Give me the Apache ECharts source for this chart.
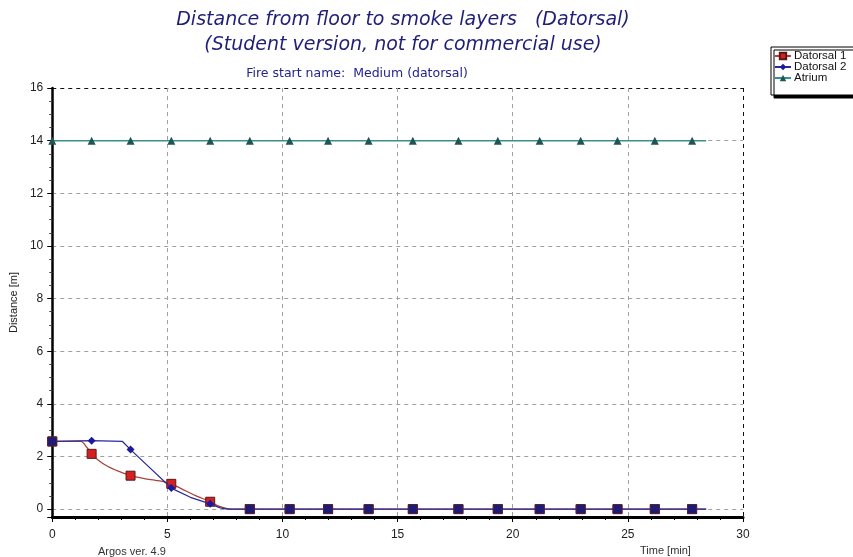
<!DOCTYPE html>
<html>
<head>
<meta charset="utf-8">
<script src="https://cdn.jsdelivr.net/npm/echarts@6/dist/echarts.min.js"></script>
<style>html,body{margin:0;padding:0;background:#fff}#c{width:853px;height:557px}</style>
</head>
<body>
<div id="c"></div>
<script>
// ---- data ----
const seriesNames = ['Datorsal 1', 'Datorsal 2', 'Atrium'];
const markerTimes = [0, 1.71, 3.40, 5.17, 6.86, 8.58, 10.31, 11.98, 13.74, 15.66, 17.64, 19.35, 21.17, 22.95, 24.55, 26.17, 27.79];

const d1Times  = [0, 1.25, 1.5, 1.71, 2.0, 2.4, 2.9, 3.40, 4.0, 4.6, 5.17, 5.6, 6.2, 6.86, 7.2, 7.6, 8.0, 8.58, 10.31, 11.98, 13.74, 15.66, 17.64, 19.35, 21.17, 22.95, 24.55, 26.17, 27.79, 28.4];
const d1Values = [2.57, 2.57, 2.35, 2.10, 1.86, 1.63, 1.43, 1.27, 1.16, 1.08, 0.96, 0.78, 0.52, 0.28, 0.12, 0.02, 0, 0, 0, 0, 0, 0, 0, 0, 0, 0, 0, 0, 0, 0];

const d2Times  = [0, 1.71, 3.05, 3.40, 4.3, 5.17, 6.0, 6.86, 7.3, 7.6, 8.58, 10.31, 11.98, 13.74, 15.66, 17.64, 19.35, 21.17, 22.95, 24.55, 26.17, 27.79, 28.4];
const d2Values = [2.57, 2.60, 2.57, 2.26, 1.52, 0.80, 0.45, 0.20, 0.05, 0, 0, 0, 0, 0, 0, 0, 0, 0, 0, 0, 0, 0, 0];

const atTimes  = [0, 1.71, 3.40, 5.17, 6.86, 8.58, 10.31, 11.98, 13.74, 15.66, 17.64, 19.35, 21.17, 22.95, 24.55, 26.17, 27.79, 28.4];
const atValues = [14, 14, 14, 14, 14, 14, 14, 14, 14, 14, 14, 14, 14, 14, 14, 14, 14, 14];

const xTicks = [0, 5, 10, 15, 20, 25, 30];
const yTicks = [0, 2, 4, 6, 8, 10, 12, 14, 16];

// ---- build ----
function isMarker(t) { return markerTimes.some(m => Math.abs(m - t) < 1e-6); }
function d1At(t) { const i = d1Times.findIndex(v => Math.abs(v - t) < 1e-6); return i < 0 ? null : d1Values[i]; }

const d1Data = d1Times.map((t, i) => ({ value: [t, d1Values[i]], symbol: isMarker(t) ? 'rect' : 'none' }));
const d2Data = d2Times.map((t, i) => {
  if (!isMarker(t)) return { value: [t, d2Values[i]], symbol: 'none' };
  const overlap = d1At(t) !== null && Math.abs(d1At(t) - d2Values[i]) < 1e-6;
  return overlap
    ? { value: [t, d2Values[i]], symbol: 'rect', symbolSize: 9, itemStyle: { color: '#1c1c78', borderColor: '#5a2030', borderWidth: 1 } }
    : { value: [t, d2Values[i]], symbol: 'diamond' };
});
const atData = atTimes.map((t, i) => ({ value: [t, atValues[i]], symbol: isMarker(t) ? 'triangle' : 'none' }));

const chart = echarts.init(document.getElementById('c'), null, { renderer: 'canvas' });
const FONT = 'Liberation Sans, Arial, sans-serif';
const TFONT = 'DejaVu Sans, Verdana, sans-serif';
const xSplitColors = xTicks.map((v, i) => i === xTicks.length - 1 ? '#111' : '#a0a0a0');
const ySplitColors = [-1].concat(yTicks).map((v, i, a) => i === a.length - 1 ? '#111' : '#a0a0a0');

chart.setOption({
  animation: false,
  backgroundColor: '#fff',
  title: [
    {
      text: 'Distance from floor to smoke layers   (Datorsal)\n(Student version, not for commercial use)',
      left: 398, top: 3, textAlign: 'center',
      textStyle: { fontFamily: TFONT, fontSize: 19, fontStyle: 'italic', fontWeight: 'normal', color: '#1f1f78', lineHeight: 25 }
    },
    {
      text: 'Fire start name:  Medium (datorsal)',
      left: 352, top: 62, textAlign: 'center',
      textStyle: { fontFamily: TFONT, fontSize: 12.5, fontWeight: 'normal', color: '#23238f' }
    }
  ],
  legend: {
    data: seriesNames,
    orient: 'vertical',
    left: 771, top: 47,
    itemWidth: 16, itemHeight: 8, itemGap: -1,
    padding: [3, 20, 11, 3],
    backgroundColor: '#fff',
    borderColor: '#000', borderWidth: 1,
    shadowColor: '#000', shadowBlur: 0, shadowOffsetX: 3, shadowOffsetY: 3,
    textStyle: { fontFamily: FONT, fontSize: 11.5, lineHeight: 11, color: '#111', padding: [0, 0, 0, -2] }
  },
  grid: { left: 52, right: 110, top: 88, bottom: 40, containLabel: false },
  xAxis: {
    type: 'value', min: 0, max: 30, interval: 5,
    axisLine: { onZero: false, lineStyle: { color: '#000', width: 3 } },
    axisTick: { show: true, length: 5, lineStyle: { color: '#000' } },
    minorTick: { show: true, splitNumber: 5, length: 3, lineStyle: { color: '#000' } },
    axisLabel: { fontFamily: FONT, fontSize: 12, color: '#222', margin: 12 },
    splitLine: { show: true, lineStyle: { type: [4, 4], color: xSplitColors, width: 1 } }
  },
  yAxis: {
    type: 'value', min: -0.3, max: 16, splitNumber: 8,
    name: 'Distance [m]', nameLocation: 'middle', nameGap: 33,
    nameTextStyle: { fontFamily: FONT, fontSize: 11, color: '#222' },
    axisLine: { onZero: false, lineStyle: { color: '#000', width: 2.5 } },
    axisTick: { show: true, length: 5, lineStyle: { color: '#000' } },
    minorTick: { show: true, splitNumber: 4, length: 3, lineStyle: { color: '#444' } },
    axisLabel: { fontFamily: FONT, fontSize: 12, color: '#222', margin: 9,
      formatter: v => (yTicks.indexOf(v) >= 0 ? String(v) : '') },
    splitLine: { show: true, lineStyle: { type: [4, 4], color: ySplitColors, width: 1 } }
  },
  graphic: [
    { type: 'text', left: 98, top: 546, style: { text: 'Argos ver. 4.9', font: '11px ' + FONT, fill: '#333' } },
    { type: 'text', left: 640, top: 545, style: { text: 'Time [min]', font: '11px ' + FONT, fill: '#333' } }
  ],
  series: [
    {
      name: seriesNames[0], type: 'line', data: d1Data,
      smooth: 0.25,
      symbol: 'rect', symbolSize: 9,
      lineStyle: { color: '#a8453c', width: 1.3 },
      itemStyle: { color: '#d42020', borderColor: '#5a1818', borderWidth: 1 },
      z: 2
    },
    {
      name: seriesNames[1], type: 'line', data: d2Data,
      symbol: 'diamond', symbolSize: 8,
      lineStyle: { color: '#2a2a9a', width: 1.3 },
      itemStyle: { color: '#1a1a9a' },
      z: 3
    },
    {
      name: seriesNames[2], type: 'line', data: atData,
      symbol: 'triangle', symbolSize: 8,
      lineStyle: { color: '#3a9090', width: 1.5 },
      itemStyle: { color: '#1f5555' },
      z: 3
    }
  ]
});
</script>
</body>
</html>
